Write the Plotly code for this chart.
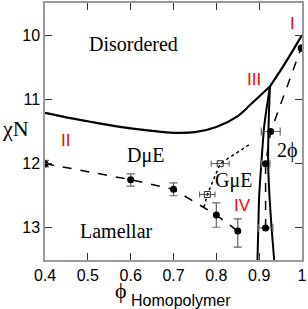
import plotly.graph_objects as go

# ---- data ----
# order-disorder boundary (solid), left of the triple point III and right of it
odt_left_x = [0.40, 0.45, 0.50, 0.55, 0.60, 0.65, 0.70, 0.75, 0.80, 0.85, 0.88, 0.925]
odt_left_y = [11.21, 11.28, 11.34, 11.40, 11.45, 11.49, 11.52, 11.51, 11.43, 11.26, 11.08, 10.80]
odt_right_x = [0.925, 0.95, 0.975, 1.0]
odt_right_y = [10.80, 10.55, 10.28, 10.0]

# two-phase lens boundaries (solid)
lens_left_x = [0.925, 0.912, 0.905, 0.900, 0.898, 0.896]
lens_left_y = [10.80, 11.40, 12.00, 12.50, 13.00, 13.50]
lens_right_x = [0.925, 0.922, 0.921, 0.924, 0.929, 0.935]
lens_right_y = [10.80, 11.40, 12.00, 12.50, 13.00, 13.50]

# simulation points: lamellar boundary (dashed, filled circles)
lam_x = [0.40, 0.60, 0.70, 0.80, 0.85]
lam_y = [12.00, 12.25, 12.40, 12.80, 13.05]
lam_err_plus = [0.05, 0.10, 0.10, 0.19, 0.25]
lam_err_minus = [0.05, 0.09, 0.10, 0.19, 0.19]

# simulation points: right branch (dashed, filled circles)
rb_x = [0.915, 0.915, 0.927, 0.998]
rb_y = [13.00, 12.00, 11.50, 10.20]
rb_xerr = [0.017, 0.010, 0.022, 0.0]

# GμE boundary (dotted, open squares)
ge_line_x = [0.771, 0.779, 0.809, 0.880]
ge_line_y = [12.68, 12.48, 12.00, 11.69]
ge_pts_x = [0.779, 0.809]
ge_pts_y = [12.48, 12.00]
ge_xerr = [0.018, 0.021]

x_ticks = [0.4, 0.5, 0.6, 0.7, 0.8, 0.9, 1.0]
x_ticklabels = ["0.4", "0.5", "0.6", "0.7", "0.8", "0.9", "1"]
y_ticks = [10, 11, 12, 13]
y_ticklabels = ["10", "11", "12", "13"]

fig = go.Figure()

solid = dict(color="black", width=2.2)
fig.add_trace(go.Scatter(x=odt_left_x, y=odt_left_y, mode="lines",
                         line=dict(shape="spline", smoothing=0.8, **solid)))
fig.add_trace(go.Scatter(x=odt_right_x, y=odt_right_y, mode="lines",
                         line=dict(shape="spline", smoothing=0.6, **solid)))
fig.add_trace(go.Scatter(x=lens_left_x, y=lens_left_y, mode="lines",
                         line=dict(shape="spline", smoothing=0.6, color="black", width=2)))
fig.add_trace(go.Scatter(x=lens_right_x, y=lens_right_y, mode="lines",
                         line=dict(shape="spline", smoothing=0.6, color="black", width=2)))

# dotted GμE line + squares
fig.add_trace(go.Scatter(x=ge_line_x, y=ge_line_y, mode="lines",
                         line=dict(color="black", width=1.5, dash="dot")))
fig.add_trace(go.Scatter(x=ge_pts_x, y=ge_pts_y, mode="markers",
                         marker=dict(symbol="square-open", size=6, color="#333",
                                     line=dict(width=1)),
                         error_x=dict(type="data", array=ge_xerr, color="#555",
                                      thickness=1, width=3)))

# dashed lamellar line with error bars
fig.add_trace(go.Scatter(x=lam_x, y=lam_y, mode="lines+markers",
                         line=dict(color="black", width=1.5, dash="dash"),
                         marker=dict(symbol="circle", size=7, color="black"),
                         error_y=dict(type="data", symmetric=False, array=lam_err_plus,
                                      arrayminus=lam_err_minus, color="#666",
                                      thickness=1.2, width=4)))

# dashed right branch
fig.add_trace(go.Scatter(x=rb_x, y=rb_y, mode="lines+markers",
                         line=dict(color="black", width=1.5, dash="dash"),
                         marker=dict(symbol="circle", size=7, color="black"),
                         error_x=dict(type="data", array=rb_xerr, color="#666",
                                      thickness=1.2, width=4)))

L, R, T, B = 45, 3, 1, 49
W, H = 308, 309
pw, ph = W - L - R, H - T - B


def px(x):
    return (x - L) / pw


def py(y):
    return (H - B - y) / ph


serif = "Liberation Serif, Times New Roman, serif"
sans = "Liberation Sans, Arial, sans-serif"
ann = []


def label(text, x, y, size, family, color="black"):
    ann.append(dict(text=text, x=px(x), y=py(y), xref="paper", yref="paper",
                    showarrow=False, xanchor="center", yanchor="middle",
                    font=dict(size=size, family=family, color=color)))


label("Disordered", 135, 42, 20, serif)
label("DμE", 147, 155, 20, serif)
label("GμE", 236, 180, 20, serif)
label("Lamellar", 117, 231, 20, serif)
label("2ϕ", 290, 150, 20, serif)
label("I", 295, 22, 17, sans, "red")
label("II", 66, 140, 17, sans, "red")
label("III", 256, 78, 17, sans, "red")
label("IV", 245, 205, 17, sans, "red")
label("χN", 15, 127, 22, serif)
label("ϕ", 122, 291, 22, serif)
label("Homopolymer", 183, 301, 16, sans)

axis_common = dict(showgrid=False, zeroline=False, ticks="inside", ticklen=7,
                   tickwidth=1, tickcolor="#333", mirror="ticks", showline=True,
                   linecolor="#999", linewidth=1.5, ticklabeloverflow="allow",
                   tickfont=dict(size=16, family=sans, color="black"))

fig.update_layout(
    width=W, height=H,
    margin=dict(l=L, r=R, t=T, b=B),
    paper_bgcolor="white", plot_bgcolor="white",
    showlegend=False,
    xaxis=dict(range=[0.4, 1.0], tickvals=x_ticks, ticktext=x_ticklabels, **axis_common),
    yaxis=dict(range=[13.5, 9.5], tickvals=y_ticks, ticktext=y_ticklabels, **axis_common),
    annotations=ann,
)

fig.write_html("out.html", config=dict(displayModeBar=False))

# remove the browser's default page margin so the figure fills the window
with open("out.html", encoding="utf-8") as f:
    html = f.read()
html = html.replace("<head>", "<head><style>html,body{margin:0;padding:0;overflow:hidden;}</style>", 1)
with open("out.html", "w", encoding="utf-8") as f:
    f.write(html)
